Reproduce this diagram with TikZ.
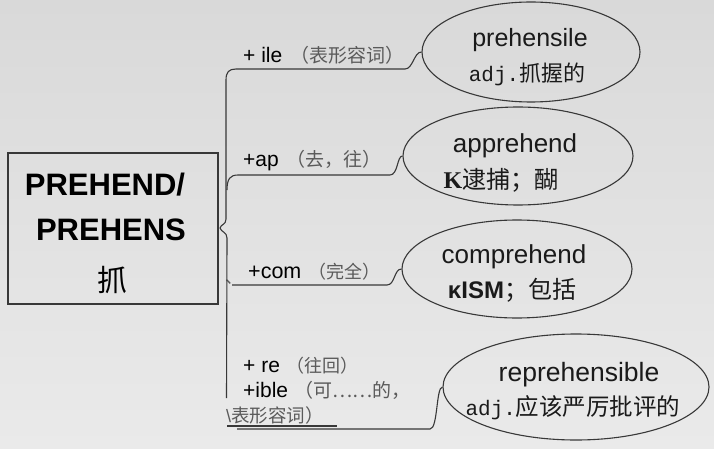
\documentclass[tikz,border=0pt]{standalone}
\usepackage{fontspec}
\setmainfont{Liberation Sans}
\newfontfamily\cjk{Noto Sans CJK SC}
\newfontfamily\monof{Liberation Mono}
\newfontfamily\seriff{Liberation Serif}
\usetikzlibrary{shapes.geometric}
\definecolor{bgtop}{HTML}{D9D9D9}
\definecolor{bgbot}{HTML}{EAEAEA}
\definecolor{lc}{HTML}{383838}
\definecolor{pgray}{HTML}{5A5A5A}
\definecolor{tdark}{HTML}{1A1A1A}
\newcommand{\fs}[1]{\fontsize{#1}{#1}\selectfont}
\begin{document}
\begin{tikzpicture}[x=1pt,y=-1pt,
  lnk/.style={draw=lc, line width=1.1pt},
  bubble/.style={ellipse, draw=lc, line width=1.1pt, inner sep=0},
  txt/.style={inner sep=0, anchor=base, text=tdark},
  lab/.style={inner sep=0, anchor=base west, text=black},
  rootbox/.style={draw=lc, line width=1.6pt, inner sep=0}]
\useasboundingbox (0,0) rectangle (714,449);
\shade[top color=bgtop, bottom color=bgbot] (0,0) rectangle (714,449);

% root
\node[rootbox, minimum width=210pt, minimum height=151pt] (root) at (113,228.5) {};
\node[txt, text=black, font=\bfseries\fs{31}] (r1) at (105,195) {PREHEND/};
\node[txt, text=black, font=\bfseries\fs{31}] (r2) at (111,240) {PREHENS};
\node[txt, text=black, font=\cjk\fs{30}] (r3) at (112,291) {抓};

% bubbles
\node[bubble, minimum width=218pt, minimum height=100pt] (e1) at (531,52) {};
\node[bubble, minimum width=230pt, minimum height=98pt] (e2) at (518,156) {};
\node[bubble, minimum width=230pt, minimum height=98pt] (e3) at (517,269) {};
\node[bubble, minimum width=266pt, minimum height=106pt] (e4) at (576,387) {};

% bubble texts
\node[txt, font=\fs{25}] (t1a) at (530,47) {prehensile};
\node[txt] (t1b) at (527,82) {{\monof\fs{21}adj.}{\cjk\fs{22}抓握的}};
\node[txt, font=\fs{26}] (t2a) at (515,153) {apprehend};
\node[txt] (t2b) at (501,188) {{\seriff\bfseries\fs{24}K}{\cjk\fs{24}逮捕；醐}};
\node[txt, font=\fs{26}] (t3a) at (514,263) {comprehend};
\node[txt] (t3b) at (512,298) {{\bfseries\fs{24}κISM}{\cjk\fs{24}；包括}};
\node[txt, font=\fs{26.5}] (t4a) at (579,381) {reprehensible};
\node[txt] (t4b) at (573,415) {{\monof\fs{21}adj.}{\cjk\fs{23.5}应该严厉批评的}};

% branch labels
\node[lab] (l1) at (243,63) {{\fs{21}+ ile\hspace{8pt}}{\cjk\fs{19}\color{pgray}（表形容词）}};
\node[lab] (l2) at (243,167) {{\fs{21}+ap\hspace{8pt}}{\cjk\fs{19}\color{pgray}（去，往）}};
\node[lab] (l3m) at (225,283) {{\cjk\fs{17}\color{pgray}、}};
\node[lab] (l3) at (248,278) {{\fs{21.5}+com\hspace{7pt}}{\cjk\fs{18}\color{pgray}（完全）}};
\node[lab] (l4a) at (243,372) {{\fs{21}+ re\hspace{7pt}}{\cjk\fs{18}\color{pgray}（往回）}};
\node[lab] (l4b) at (243,397) {{\fs{21}+ible\hspace{6pt}}{\cjk\fs{19}\color{pgray}（可……的，}};
\node[lab] (l4c) at (226,422) {{\fs{18}\color{pgray}\textbackslash}{\cjk\fs{18.5}\color{pgray}表形容词）}};

% junction coordinates
\coordinate (vb) at (226.5,398);
\coordinate (k1) at (227,238);
\coordinate (kp) at (220,228);
\coordinate (k2) at (226,219);
\coordinate (j2) at (227,190);
\coordinate (vt) at (226,80);
\coordinate (h1) at (236,69);
\coordinate (b1) at (405,69);
\coordinate (h2) at (238,175);
\coordinate (b2) at (390,175);
\coordinate (h3) at (232,285);
\coordinate (b3) at (387,285);
\coordinate (u1) at (227,426);
\coordinate (u2) at (337,426);
\coordinate (h4) at (237,429);
\coordinate (b4) at (430,429);

% spine (brace)
\draw[lnk] (vb) -- (k1) .. controls (227,232) and (221,232) .. (kp)
  .. controls (221,224) and (226,225) .. (k2) -- (vt)
  .. controls (226,72) and (229,69) .. (h1) -- (b1)
  .. controls (413,69) and (414,52) .. (e1.west);
\draw[lnk] (j2) .. controls (227,179) and (230,175) .. (h2) -- (b2)
  .. controls (398,175) and (397,156) .. (e2.west);
\draw[lnk] (h3) -- (b3) .. controls (395,285) and (394,269) .. (e3.west);
\draw[lnk] (u1) -- (u2);
\draw[lnk] (h4) -- (b4) .. controls (438,429) and (436,387) .. (e4.west);
\end{tikzpicture}
\end{document}
